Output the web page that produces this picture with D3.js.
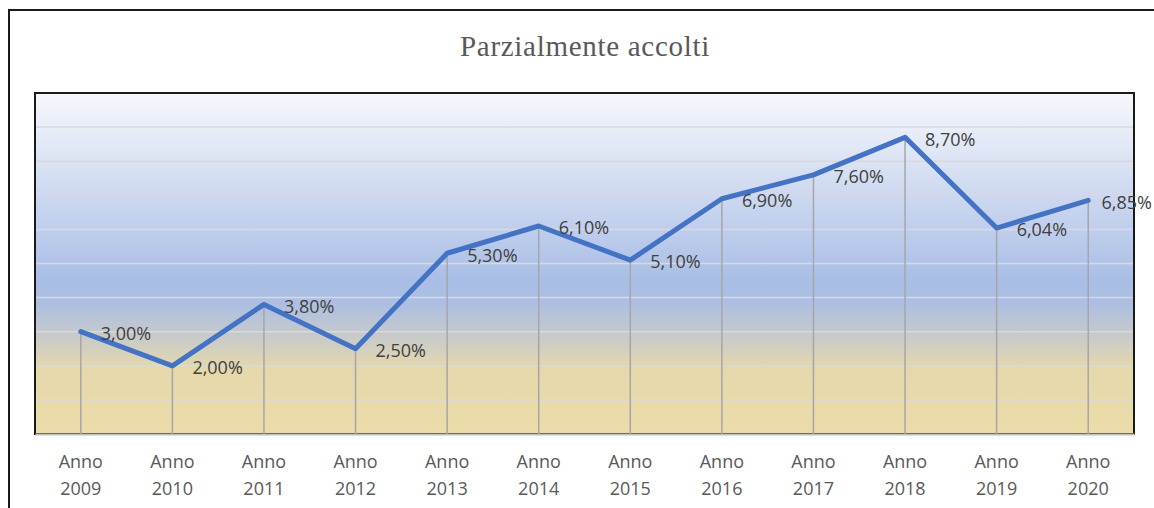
<!DOCTYPE html>
<html>
<head>
<meta charset="utf-8">
<title>Parzialmente accolti</title>
<script src="https://d3js.org/d3.v7.min.js"></script>
<style>
  body { margin: 0; background: #fff; }
  svg { display: block; }
</style>
</head>
<body>
<svg id="chart"></svg>
<script>
// data
var years = ["2009", "2010", "2011", "2012", "2013", "2014", "2015", "2016", "2017", "2018", "2019", "2020"];
var values = [3.00, 2.00, 3.80, 2.50, 5.30, 6.10, 5.10, 6.90, 7.60, 8.70, 6.04, 6.85];
var yTicks = [0, 1, 2, 3, 4, 5, 6, 7, 8, 9, 10];
var title = "Parzialmente accolti";

var W = 1154, H = 508;
var plot = {left: 35, top: 93, right: 1134, bottom: 434};

var svg = d3.select("#chart").attr("width", W).attr("height", H);

// background gradient of the plot area
var defs = svg.append("defs");
var grad = defs.append("linearGradient")
    .attr("id", "bg").attr("x1", 0).attr("y1", 0).attr("x2", 0).attr("y2", 1);
[[0, "#f7f8fc"], [0.55, "#a9bee6"], [0.62, "#adbfe1"], [0.71, "#c6cacb"], [0.81, "#e5d8ac"], [1, "#ecdca9"]]
  .forEach(function(s) { grad.append("stop").attr("offset", s[0]).attr("stop-color", s[1]); });

// outer frame (only top and left edges show)
svg.append("path")
    .attr("d", "M9," + H + "V10H" + W)
    .attr("fill", "none").attr("stroke", "#1a1a1a").attr("stroke-width", 2);

svg.append("text")
    .attr("x", 585).attr("y", 56)
    .attr("text-anchor", "middle")
    .style("font-family", "'Liberation Serif', 'DejaVu Serif', serif")
    .style("font-size", "29px")
    .style("letter-spacing", "0.7px")
    .style("fill", "#595959")
    .text(title);

var x = d3.scalePoint().domain(years).range([plot.left, plot.right]).padding(0.5);
var y = d3.scaleLinear().domain([0, 10]).range([plot.bottom, plot.top]);

var g = svg.append("g");

g.append("rect")
    .attr("x", plot.left).attr("y", plot.top)
    .attr("width", plot.right - plot.left).attr("height", plot.bottom - plot.top)
    .attr("fill", "url(#bg)");

// horizontal gridlines
g.selectAll(".grid").data(yTicks.slice(1, -1)).enter().append("line")
    .attr("class", "grid")
    .attr("x1", plot.left).attr("x2", plot.right)
    .attr("y1", function(d) { return y(d); }).attr("y2", function(d) { return y(d); })
    .attr("stroke", "#d9d9d9").attr("stroke-width", 1.5);

// plot border
g.append("rect")
    .attr("x", plot.left).attr("y", plot.top)
    .attr("width", plot.right - plot.left).attr("height", plot.bottom - plot.top)
    .attr("fill", "none").attr("stroke", "#1a1a1a").attr("stroke-width", 2);

// x axis
var xaxis = d3.axisBottom(x).tickSize(0).tickFormat("");
var ax = g.append("g").attr("transform", "translate(0," + plot.bottom + ")").call(xaxis);
ax.select(".domain").attr("stroke", "#bfbfbf").attr("stroke-width", 2);

var lab = g.selectAll(".xlab").data(years).enter().append("text")
    .attr("class", "xlab")
    .attr("x", function(d) { return x(d); })
    .attr("text-anchor", "middle")
    .style("font-family", "'Open Sans', sans-serif")
    .style("font-size", "18px")
    .style("fill", "#595959");
lab.append("tspan").attr("x", function(d) { return x(d); }).attr("y", 468).text("Anno");
lab.append("tspan").attr("x", function(d) { return x(d); }).attr("y", 495).text(function(d) { return d; });

// drop lines
g.selectAll(".drop").data(years).enter().append("line")
    .attr("class", "drop")
    .attr("x1", function(d) { return x(d); }).attr("x2", function(d) { return x(d); })
    .attr("y1", function(d, i) { return y(values[i]); }).attr("y2", plot.bottom)
    .attr("stroke", "#a6a6a6").attr("stroke-width", 1.5);

// the series line
var line = d3.line()
    .x(function(d, i) { return x(years[i]); })
    .y(function(d) { return y(d); });

g.append("path")
    .datum(values)
    .attr("d", line)
    .attr("fill", "none")
    .attr("stroke", "#4472c4")
    .attr("stroke-width", 5)
    .attr("stroke-linejoin", "round")
    .attr("stroke-linecap", "round");

// data labels, to the right of each point
var fmt = function(v) { return v.toFixed(2).replace(".", ",") + "%"; };
g.selectAll(".dlab").data(values).enter().append("text")
    .attr("class", "dlab")
    .attr("x", function(d, i) { return x(years[i]) + 20; })
    .attr("y", function(d) { return y(d) + 2; })
    .attr("dy", "0.35em")
    .style("font-family", "'Open Sans', sans-serif")
    .style("font-size", "18px")
    .style("fill", "#404040")
    .text(fmt)
    .each(function() {
      // keep labels inside the picture
      var b = this.getBBox();
      if (b.x + b.width > W - 2) d3.select(this).attr("x", W - 2 - b.width);
    });
</script>
</body>
</html>
